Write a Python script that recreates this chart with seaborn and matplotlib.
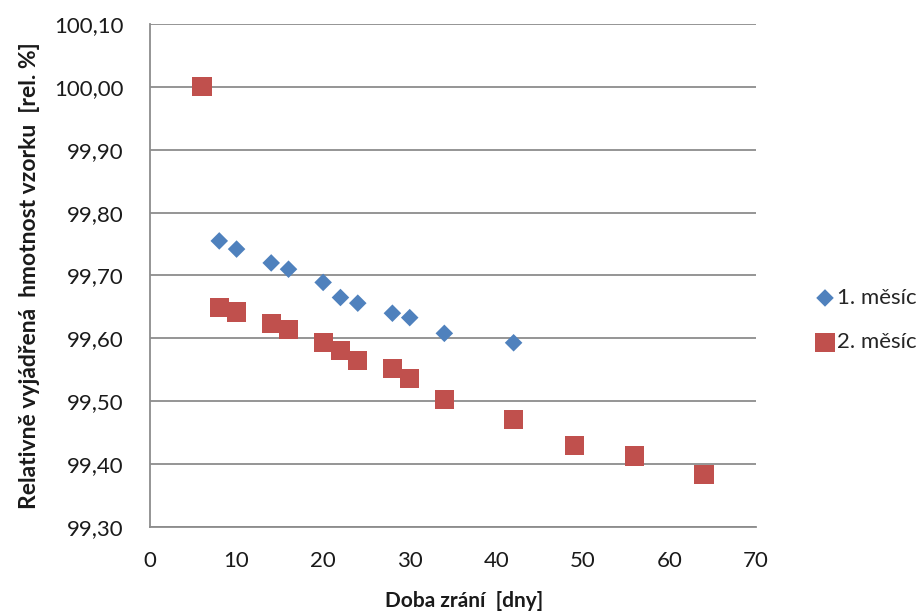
import matplotlib
matplotlib.use("Agg")
import matplotlib.pyplot as plt
import seaborn as sns
import pandas as pd
from matplotlib.ticker import FuncFormatter

days_1 = [8, 10, 14, 16, 20, 22, 24, 28, 30, 34, 42]
mass_1 = [99.755, 99.742, 99.720, 99.710, 99.689, 99.665, 99.656, 99.640, 99.633, 99.608, 99.593]
days_2 = [6, 8, 10, 14, 16, 20, 22, 24, 28, 30, 34, 42, 49, 56, 64]
mass_2 = [100.000, 99.649, 99.642, 99.624, 99.614, 99.594, 99.581, 99.565, 99.552, 99.536,
          99.503, 99.471, 99.429, 99.413, 99.384]
series_names = ["1. měsíc", "2. měsíc"]
x_ticks = [0, 10, 20, 30, 40, 50, 60, 70]
y_ticks = [99.30, 99.40, 99.50, 99.60, 99.70, 99.80, 99.90, 100.00, 100.10]

sns.set_theme(style="white")
plt.rcParams['font.family'] = ['Lato', 'DejaVu Sans']

df1 = pd.DataFrame({"x": days_1, "y": mass_1})
df2 = pd.DataFrame({"x": days_2, "y": mass_2})

fig = plt.figure(figsize=(9.2, 6.12), dpi=100)
ax = fig.add_axes([150/920, 1-527/612, (756-150)/920, (527-24)/612])

sns.scatterplot(data=df1, x="x", y="y", marker="D", s=80, color="#4F81BD",
                edgecolor="none", label=series_names[0], ax=ax, zorder=3)
sns.scatterplot(data=df2, x="x", y="y", marker="s", s=190, color="#C0504D",
                edgecolor="none", label=series_names[1], ax=ax, zorder=3)

ax.set_xlim(0, 70)
ax.set_ylim(99.30, 100.10)
ax.set_xticks(x_ticks)
ax.set_yticks(y_ticks)
ax.yaxis.set_major_formatter(FuncFormatter(lambda v, p: f"{v:.2f}".replace(".", ",")))
ax.xaxis.set_major_formatter(FuncFormatter(lambda v, p: f"{int(round(v))}"))
ax.grid(axis="y", color="#8c8c8c", linewidth=1.3)
ax.grid(axis="x", visible=False)
for side in ["top", "right"]:
    ax.spines[side].set_visible(False)
for side in ["left", "bottom"]:
    ax.spines[side].set_color("#8c8c8c")
    ax.spines[side].set_linewidth(1.3)
ax.tick_params(axis="both", length=0, labelsize=16, colors="#1a1a1a")
ax.tick_params(axis="y", pad=19)
ax.tick_params(axis="x", pad=17)

ax.set_xlabel("Doba zrání  [dny]", fontsize=15, fontweight="bold", color="#1a1a1a")
ax.xaxis.set_label_coords(0.518, -0.128)
ax.set_ylabel("Relativně vyjádřená  hmotnost vzorku  [rel. %]", fontsize=16.5,
              fontweight="bold", color="#1a1a1a", labelpad=10)

leg = ax.legend(loc="center left", bbox_to_anchor=(805/920, 1-320/612),
                bbox_transform=fig.transFigure, frameon=False, fontsize=16,
                labelspacing=1.1, handletextpad=0.05, handlelength=1.0,
                borderaxespad=0)

fig.savefig("out.png", dpi=100)
